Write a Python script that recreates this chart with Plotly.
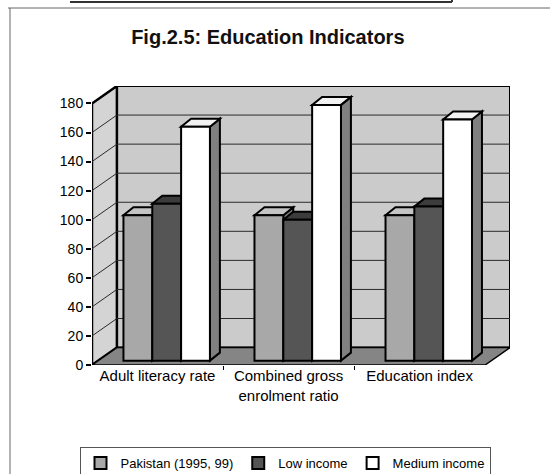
import plotly.graph_objects as go

# ---- data ----
categories = ["Adult literacy rate", "Combined gross<br>enrolment ratio", "Education index"]
series_names = ["Pakistan (1995, 99)", "Low income", "Medium income"]
pakistan = [100, 100, 100]
low_income = [108, 97, 106]
medium_income = [161, 176, 166]
y_ticks = [0, 20, 40, 60, 80, 100, 120, 140, 160, 180]

series_values = [pakistan, low_income, medium_income]
front_colors = ["#a8a8a8", "#555555", "#ffffff"]
top_colors = ["#c4c4c4", "#3c3c3c", "#f2f2f2"]
side_colors = ["#7c7c7c", "#2e2e2e", "#808080"]

# ---- 3D geometry (axis units) ----
X0, X1 = -0.5, len(categories) - 0.5
DXU, DYU = 0.19, 12          # wall depth offset
YMAX = max(y_ticks)
BAR_W = 0.22
SHIFT = 0.07
BASE = 3
BDX, BDY = 0.076, 5.5        # bar depth offset

fig = go.Figure()
shapes = []

def path(pts):
    return "M " + " L ".join(f"{x},{y}" for x, y in pts) + " Z"

# back wall
shapes.append(dict(type="path", xref="x", yref="y", layer="below",
                   path=path([(X0 + DXU, DYU), (X1 + DXU, DYU), (X1 + DXU, YMAX + DYU), (X0 + DXU, YMAX + DYU)]),
                   fillcolor="#cbcbcb", line=dict(color="black", width=2)))
# left wall
shapes.append(dict(type="path", xref="x", yref="y", layer="below",
                   path=path([(X0, 0), (X0, YMAX), (X0 + DXU, YMAX + DYU), (X0 + DXU, DYU)]),
                   fillcolor="#d4d4d4", line=dict(color="black", width=2.5)))
# floor
shapes.append(dict(type="path", xref="x", yref="y", layer="below",
                   path=path([(X0, 0), (X1, 0), (X1 + DXU, DYU), (X0 + DXU, DYU)]),
                   fillcolor="#858585", line=dict(color="black", width=1.5)))
# gridlines
for t in y_ticks[1:-1]:
    shapes.append(dict(type="line", xref="x", yref="y", layer="below",
                       x0=X0 + DXU, x1=X1 + DXU, y0=t + DYU, y1=t + DYU,
                       line=dict(color="#2a2a2a", width=1)))
    shapes.append(dict(type="line", xref="x", yref="y", layer="below",
                       x0=X0, x1=X0 + DXU, y0=t, y1=t + DYU,
                       line=dict(color="#2a2a2a", width=1)))

# bars with faces
for k, (name, vals) in enumerate(zip(series_names, series_values)):
    xs = [i + SHIFT + (k - 1) * BAR_W for i in range(len(categories))]
    fig.add_trace(go.Bar(x=xs, y=vals, base=BASE, width=BAR_W, name=name,
                         marker=dict(color=front_colors[k], line=dict(color="black", width=2))))

for i in range(len(categories)):
    for k, vals in enumerate(series_values):
        xc = i + SHIFT + (k - 1) * BAR_W
        xl, xr = xc - BAR_W / 2, xc + BAR_W / 2
        top = BASE + vals[i]
        shapes.append(dict(type="path", xref="x", yref="y", layer="below",
                           path=path([(xr, BASE), (xr, top), (xr + BDX, top + BDY), (xr + BDX, BASE + BDY)]),
                           fillcolor=side_colors[k], line=dict(color="black", width=2)))
        shapes.append(dict(type="path", xref="x", yref="y", layer="below",
                           path=path([(xl, top), (xr, top), (xr + BDX, top + BDY), (xl + BDX, top + BDY)]),
                           fillcolor=top_colors[k], line=dict(color="black", width=2)))

# page frame lines (pixel-based, converted to paper fractions)
W, H = 550, 474
shapes.append(dict(type="line", xref="paper", yref="paper",
                   x0=(8 - 92) / 418, x1=(550 - 92) / 418, y0=(365 - 8) / 279, y1=(365 - 8) / 279,
                   line=dict(color="#666666", width=1)))
shapes.append(dict(type="line", xref="paper", yref="paper",
                   x0=(10 - 92) / 418, x1=(10 - 92) / 418, y0=(365 - 8) / 279, y1=(365 - 474) / 279,
                   line=dict(color="#666666", width=1)))
shapes.append(dict(type="line", xref="paper", yref="paper",
                   x0=(70 - 92) / 418, x1=(452 - 92) / 418, y0=(365 - 2) / 279, y1=(365 - 2) / 279,
                   line=dict(color="#333333", width=2)))
shapes.append(dict(type="line", xref="paper", yref="paper",
                   x0=(452 - 92) / 418, x1=(452 - 92) / 418, y0=(365 - 2) / 279, y1=(365 + 0) / 279,
                   line=dict(color="#333333", width=2)))

font = "Arial, Liberation Sans, sans-serif"
fig.update_layout(
    width=W, height=H,
    margin=dict(l=92, r=40, t=86, b=109, autoexpand=False),
    paper_bgcolor="white", plot_bgcolor="white",
    barmode="overlay",
    showlegend=True,
    title=dict(text="<b>Fig.2.5: Education Indicators</b>", x=0.487, xref="container",
               y=1 - 37 / H, yanchor="middle", font=dict(family=font, size=20, color="#111")),
    xaxis=dict(range=[X0, X1 + DXU], tickvals=list(range(len(categories))), ticktext=categories,
               showgrid=False, zeroline=False, showline=False, ticks="", automargin=False,
               tickfont=dict(family=font, size=15, color="black"),
               minor=dict(tickvals=[X0 + 1, X0 + 2], ticks="outside", ticklen=4, tickcolor="black", showgrid=False)),
    yaxis=dict(range=[0, YMAX + DYU], tickvals=y_ticks, showgrid=False, zeroline=False, showline=False,
               ticks="outside", ticklen=5, tickcolor="black", tickwidth=1.5, automargin=False,
               tickfont=dict(family=font, size=14, color="black")),
    legend=dict(orientation="h", xref="container", yref="container",
                x=285 / W, xanchor="center", y=1 - 447 / H, yanchor="top",
                bordercolor="#555", borderwidth=1, bgcolor="white", itemwidth=30,
                font=dict(family=font, size=13, color="black"), traceorder="normal"),
    shapes=shapes,
)

fig.write_html("out.html", config={"displayModeBar": False},
               post_script="document.body.style.margin='0';document.body.style.overflow='hidden';")
